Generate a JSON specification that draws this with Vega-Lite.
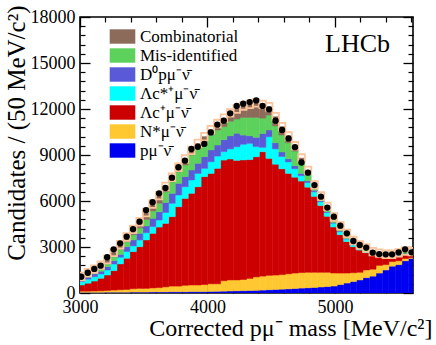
{
  "$schema": "https://vega.github.io/schema/vega-lite/v6.json",
  "autosize": "none",
  "width": 333,
  "height": 276,
  "padding": {"left": 80, "top": 17, "right": 23, "bottom": 52},
  "background": "white",
  "config": {
    "font": "Liberation Serif",
    "view": {"stroke": "black", "strokeWidth": 1.6},
    "axis": {"grid": false, "labelFont": "Liberation Serif", "labelFontSize": 18, "labelColor": "black", "titleFont": "Liberation Serif", "titleFontWeight": "normal", "titleColor": "black", "tickColor": "black", "domainColor": "black"},
    "legend": {"orient": "none", "legendX": 34, "legendY": 11, "symbolType": "M-1.6,-0.9H1.6V0.9H-1.6Z", "symbolSize": 256, "symbolStrokeWidth": 0, "labelFont": "Liberation Serif", "labelFontSize": 17, "labelColor": "black", "labelOffset": 9, "rowPadding": 1, "labelLimit": 0, "padding": 0}
  },
  "data": {"values": [
    {"lo": 2985, "hi": 3036, "m": 3010, "p": 40, "ns": 120, "lc": 520, "lcs": 740, "d0": 850, "mis": 950, "comb": 1080, "obs": 1060},
    {"lo": 3036, "hi": 3087, "m": 3061, "p": 40, "ns": 120, "lc": 640, "lcs": 900, "d0": 1050, "mis": 1180, "comb": 1320, "obs": 1320},
    {"lo": 3087, "hi": 3137, "m": 3112, "p": 40, "ns": 130, "lc": 780, "lcs": 1060, "d0": 1250, "mis": 1400, "comb": 1560, "obs": 1570},
    {"lo": 3137, "hi": 3188, "m": 3162, "p": 40, "ns": 140, "lc": 960, "lcs": 1240, "d0": 1420, "mis": 1620, "comb": 1820, "obs": 1780},
    {"lo": 3188, "hi": 3239, "m": 3213, "p": 50, "ns": 170, "lc": 1170, "lcs": 1500, "d0": 1720, "mis": 1950, "comb": 2180, "obs": 2330},
    {"lo": 3239, "hi": 3290, "m": 3264, "p": 50, "ns": 190, "lc": 1460, "lcs": 1890, "d0": 2110, "mis": 2400, "comb": 2650, "obs": 2850},
    {"lo": 3290, "hi": 3341, "m": 3315, "p": 50, "ns": 210, "lc": 1900, "lcs": 2330, "d0": 2520, "mis": 2850, "comb": 3150, "obs": 3240},
    {"lo": 3341, "hi": 3391, "m": 3366, "p": 50, "ns": 230, "lc": 2260, "lcs": 2700, "d0": 3020, "mis": 3350, "comb": 3650, "obs": 3680},
    {"lo": 3391, "hi": 3442, "m": 3416, "p": 60, "ns": 280, "lc": 2700, "lcs": 3070, "d0": 3460, "mis": 3800, "comb": 4150, "obs": 4170},
    {"lo": 3442, "hi": 3493, "m": 3467, "p": 60, "ns": 300, "lc": 3020, "lcs": 3460, "d0": 3890, "mis": 4250, "comb": 4650, "obs": 4650},
    {"lo": 3493, "hi": 3544, "m": 3518, "p": 60, "ns": 300, "lc": 3460, "lcs": 3930, "d0": 4370, "mis": 4800, "comb": 5250, "obs": 5410},
    {"lo": 3544, "hi": 3595, "m": 3569, "p": 70, "ns": 330, "lc": 3890, "lcs": 4330, "d0": 4870, "mis": 5350, "comb": 5800, "obs": 5920},
    {"lo": 3595, "hi": 3645, "m": 3620, "p": 70, "ns": 350, "lc": 4300, "lcs": 4760, "d0": 5300, "mis": 5850, "comb": 6350, "obs": 6500},
    {"lo": 3645, "hi": 3696, "m": 3670, "p": 70, "ns": 400, "lc": 4540, "lcs": 5250, "d0": 5900, "mis": 6600, "comb": 6950, "obs": 6850},
    {"lo": 3696, "hi": 3747, "m": 3721, "p": 80, "ns": 450, "lc": 4980, "lcs": 5850, "d0": 6500, "mis": 7260, "comb": 7550, "obs": 7520},
    {"lo": 3747, "hi": 3798, "m": 3772, "p": 80, "ns": 450, "lc": 5630, "lcs": 6390, "d0": 7150, "mis": 7910, "comb": 8200, "obs": 8200},
    {"lo": 3798, "hi": 3849, "m": 3823, "p": 80, "ns": 500, "lc": 6170, "lcs": 6930, "d0": 7590, "mis": 8350, "comb": 8750, "obs": 8630},
    {"lo": 3849, "hi": 3899, "m": 3874, "p": 90, "ns": 520, "lc": 6500, "lcs": 7370, "d0": 8020, "mis": 9000, "comb": 9300, "obs": 9390},
    {"lo": 3899, "hi": 3950, "m": 3924, "p": 90, "ns": 520, "lc": 6930, "lcs": 7800, "d0": 8460, "mis": 9430, "comb": 9750, "obs": 9540},
    {"lo": 3950, "hi": 4001, "m": 3975, "p": 90, "ns": 550, "lc": 7590, "lcs": 8130, "d0": 8890, "mis": 9870, "comb": 10200, "obs": 9720},
    {"lo": 4001, "hi": 4052, "m": 4026, "p": 100, "ns": 600, "lc": 7800, "lcs": 8560, "d0": 9330, "mis": 10300, "comb": 10650, "obs": 10470},
    {"lo": 4052, "hi": 4103, "m": 4077, "p": 110, "ns": 600, "lc": 8130, "lcs": 8930, "d0": 9650, "mis": 10630, "comb": 11050, "obs": 10980},
    {"lo": 4103, "hi": 4153, "m": 4128, "p": 120, "ns": 800, "lc": 8670, "lcs": 9220, "d0": 10000, "mis": 10850, "comb": 11400, "obs": 11240},
    {"lo": 4153, "hi": 4204, "m": 4178, "p": 130, "ns": 850, "lc": 8740, "lcs": 9400, "d0": 10250, "mis": 11200, "comb": 11750, "obs": 11720},
    {"lo": 4204, "hi": 4255, "m": 4229, "p": 140, "ns": 850, "lc": 8650, "lcs": 9540, "d0": 10420, "mis": 11350, "comb": 12000, "obs": 12200},
    {"lo": 4255, "hi": 4306, "m": 4280, "p": 150, "ns": 880, "lc": 8680, "lcs": 9700, "d0": 10300, "mis": 11450, "comb": 12200, "obs": 12350},
    {"lo": 4306, "hi": 4357, "m": 4331, "p": 160, "ns": 950, "lc": 8700, "lcs": 9760, "d0": 10250, "mis": 11450, "comb": 12300, "obs": 12450},
    {"lo": 4357, "hi": 4407, "m": 4382, "p": 170, "ns": 1050, "lc": 8890, "lcs": 9550, "d0": 10150, "mis": 11450, "comb": 12400, "obs": 12560},
    {"lo": 4407, "hi": 4458, "m": 4432, "p": 190, "ns": 1100, "lc": 9215, "lcs": 9500, "d0": 10400, "mis": 11400, "comb": 12300, "obs": 12200},
    {"lo": 4458, "hi": 4509, "m": 4483, "p": 210, "ns": 1150, "lc": 8780, "lcs": 10190, "d0": 10630, "mis": 11600, "comb": 12150, "obs": 11980},
    {"lo": 4509, "hi": 4560, "m": 4534, "p": 230, "ns": 1170, "lc": 8400, "lcs": 9400, "d0": 9800, "mis": 10900, "comb": 11500, "obs": 11240},
    {"lo": 4560, "hi": 4611, "m": 4585, "p": 250, "ns": 1200, "lc": 8100, "lcs": 8900, "d0": 9200, "mis": 10300, "comb": 10850, "obs": 10630},
    {"lo": 4611, "hi": 4661, "m": 4636, "p": 270, "ns": 1250, "lc": 7800, "lcs": 8550, "d0": 8750, "mis": 9800, "comb": 10250, "obs": 10080},
    {"lo": 4661, "hi": 4712, "m": 4686, "p": 290, "ns": 1300, "lc": 7550, "lcs": 8100, "d0": 8300, "mis": 9250, "comb": 9600, "obs": 9510},
    {"lo": 4712, "hi": 4763, "m": 4737, "p": 320, "ns": 1330, "lc": 7300, "lcs": 7650, "d0": 7800, "mis": 8550, "comb": 8800, "obs": 8510},
    {"lo": 4763, "hi": 4814, "m": 4788, "p": 340, "ns": 1350, "lc": 6900, "lcs": 7200, "d0": 7320, "mis": 7850, "comb": 8000, "obs": 7850},
    {"lo": 4814, "hi": 4865, "m": 4839, "p": 360, "ns": 1350, "lc": 6300, "lcs": 6600, "d0": 6700, "mis": 6950, "comb": 7050, "obs": 7040},
    {"lo": 4865, "hi": 4915, "m": 4890, "p": 390, "ns": 1350, "lc": 5700, "lcs": 5950, "d0": 6020, "mis": 6250, "comb": 6330, "obs": 6280},
    {"lo": 4915, "hi": 4966, "m": 4940, "p": 420, "ns": 1350, "lc": 5000, "lcs": 5250, "d0": 5300, "mis": 5550, "comb": 5650, "obs": 5570},
    {"lo": 4966, "hi": 5017, "m": 4991, "p": 450, "ns": 1300, "lc": 4300, "lcs": 4550, "d0": 4600, "mis": 4850, "comb": 4960, "obs": 4980},
    {"lo": 5017, "hi": 5068, "m": 5042, "p": 550, "ns": 1300, "lc": 3800, "lcs": 4000, "d0": 4050, "mis": 4280, "comb": 4380, "obs": 4390},
    {"lo": 5068, "hi": 5119, "m": 5093, "p": 650, "ns": 1300, "lc": 3350, "lcs": 3520, "d0": 3560, "mis": 3780, "comb": 3880, "obs": 3890},
    {"lo": 5119, "hi": 5169, "m": 5144, "p": 750, "ns": 1320, "lc": 3020, "lcs": 3150, "d0": 3180, "mis": 3330, "comb": 3420, "obs": 3390},
    {"lo": 5169, "hi": 5220, "m": 5194, "p": 850, "ns": 1350, "lc": 2800, "lcs": 2900, "d0": 2920, "mis": 3050, "comb": 3130, "obs": 3130},
    {"lo": 5220, "hi": 5271, "m": 5245, "p": 1000, "ns": 1500, "lc": 2630, "lcs": 2700, "d0": 2720, "mis": 2850, "comb": 2930, "obs": 2960},
    {"lo": 5271, "hi": 5322, "m": 5296, "p": 1100, "ns": 1550, "lc": 2480, "lcs": 2520, "d0": 2540, "mis": 2640, "comb": 2700, "obs": 2630},
    {"lo": 5322, "hi": 5373, "m": 5347, "p": 1300, "ns": 1800, "lc": 2410, "lcs": 2440, "d0": 2460, "mis": 2550, "comb": 2600, "obs": 2540},
    {"lo": 5373, "hi": 5423, "m": 5398, "p": 1500, "ns": 1850, "lc": 2350, "lcs": 2380, "d0": 2400, "mis": 2480, "comb": 2530, "obs": 2520},
    {"lo": 5423, "hi": 5474, "m": 5448, "p": 1750, "ns": 2050, "lc": 2350, "lcs": 2380, "d0": 2400, "mis": 2480, "comb": 2530, "obs": 2520},
    {"lo": 5474, "hi": 5525, "m": 5499, "p": 1850, "ns": 2100, "lc": 2420, "lcs": 2450, "d0": 2470, "mis": 2560, "comb": 2620, "obs": 2650},
    {"lo": 5525, "hi": 5576, "m": 5550, "p": 2100, "ns": 2250, "lc": 2540, "lcs": 2570, "d0": 2590, "mis": 2680, "comb": 2740, "obs": 2850},
    {"lo": 5576, "hi": 5627, "m": 5601, "p": 2250, "ns": 2300, "lc": 2500, "lcs": 2530, "d0": 2550, "mis": 2630, "comb": 2700, "obs": 2650}
  ]},
  "resolve": {"axis": {"x": "independent", "y": "independent"}},
  "layer": [
    {
      "mark": {"type": "rect", "clip": true, "stroke": "#0000f0", "strokeWidth": 0.5},
      "encoding": {
        "x": {"field": "lo", "type": "quantitative", "scale": {"domain": [3000, 5612], "nice": false, "zero": false},
              "axis": {"orient": "bottom", "values": [3000, 4000, 5000], "format": "d", "ticks": false, "domain": false, "labelPadding": 5, "labelFlush": false,
                       "title": "Corrected pμ⁻ mass [MeV/c²]", "titleFontSize": 24, "titleX": 352, "titleY": 42, "titleAlign": "right", "titleBaseline": "alphabetic", "titleAnchor": "end"}},
        "x2": {"field": "hi"},
        "y": {"field": "p", "type": "quantitative", "scale": {"domain": [0, 18000], "nice": false},
              "axis": {"orient": "left", "values": [0, 3000, 6000, 9000, 12000, 15000, 18000], "format": "d", "ticks": false, "domain": false, "labelPadding": 5, "labelFlush": false,
                       "title": "Candidates / (50 MeV/c²)", "titleFontSize": 25, "titleAngle": -90, "titleX": -56, "titleY": -12, "titleAlign": "right", "titleBaseline": "alphabetic", "titleAnchor": "end"}},
        "y2": {"datum": 0},
        "color": {"datum": "pμ⁻ν̄",
                  "scale": {"domain": ["Combinatorial", "Mis-identified", "D⁰pμ⁻ν̄", "Λc*⁺μ⁻ν̄", "Λc⁺μ⁻ν̄", "N*μ⁻ν̄", "pμ⁻ν̄"],
                            "range": ["#8c6b5b", "#5cd25c", "#5a5ad8", "#00ffff", "#cc0000", "#ffc830", "#0000f0"]},
                  "legend": {"title": null}}
      }
    },
    {
      "mark": {"type": "rect", "clip": true, "stroke": "#ffc830", "strokeWidth": 0.5},
      "encoding": {
        "x": {"field": "lo", "type": "quantitative", "axis": {"orient": "bottom", "values": [3000, 4000, 5000], "labels": false, "domain": false, "tickSize": -10, "tickWidth": 1.3, "title": null}},
        "x2": {"field": "hi"},
        "y": {"field": "ns", "type": "quantitative", "axis": {"orient": "left", "values": [0, 3000, 6000, 9000, 12000, 15000, 18000], "labels": false, "domain": false, "tickSize": -10, "tickWidth": 1.3, "title": null}},
        "y2": {"field": "p"},
        "color": {"datum": "N*μ⁻ν̄"}
      }
    },
    {
      "mark": {"type": "rect", "clip": true, "stroke": "#cc0000", "strokeWidth": 0.5},
      "encoding": {
        "x": {"field": "lo", "type": "quantitative", "axis": {"orient": "bottom", "values": [3200, 3400, 3600, 3800, 4200, 4400, 4600, 4800, 5200, 5400, 5600], "labels": false, "domain": false, "tickSize": -5, "tickWidth": 1.2, "title": null}},
        "x2": {"field": "hi"},
        "y": {"field": "lc", "type": "quantitative", "axis": {"orient": "left", "values": [600, 1200, 1800, 2400, 3600, 4200, 4800, 5400, 6600, 7200, 7800, 8400, 9600, 10200, 10800, 11400, 12600, 13200, 13800, 14400, 15600, 16200, 16800, 17400], "labels": false, "domain": false, "tickSize": -5, "tickWidth": 1.2, "title": null}},
        "y2": {"field": "ns"},
        "color": {"datum": "Λc⁺μ⁻ν̄"}
      }
    },
    {
      "mark": {"type": "rect", "clip": true, "stroke": "#00ffff", "strokeWidth": 0.5},
      "encoding": {
        "x": {"field": "lo", "type": "quantitative", "axis": {"orient": "top", "values": [3000, 4000, 5000], "labels": false, "domain": false, "tickSize": -10, "tickWidth": 1.3, "title": null}},
        "x2": {"field": "hi"},
        "y": {"field": "lcs", "type": "quantitative", "axis": {"orient": "right", "values": [0, 3000, 6000, 9000, 12000, 15000, 18000], "labels": false, "domain": false, "tickSize": -10, "tickWidth": 1.3, "title": null}},
        "y2": {"field": "lc"},
        "color": {"datum": "Λc*⁺μ⁻ν̄"}
      }
    },
    {
      "mark": {"type": "rect", "clip": true, "stroke": "#5a5ad8", "strokeWidth": 0.5},
      "encoding": {
        "x": {"field": "lo", "type": "quantitative", "axis": {"orient": "top", "values": [3200, 3400, 3600, 3800, 4200, 4400, 4600, 4800, 5200, 5400, 5600], "labels": false, "domain": false, "tickSize": -5, "tickWidth": 1.2, "title": null}},
        "x2": {"field": "hi"},
        "y": {"field": "d0", "type": "quantitative", "axis": {"orient": "right", "values": [600, 1200, 1800, 2400, 3600, 4200, 4800, 5400, 6600, 7200, 7800, 8400, 9600, 10200, 10800, 11400, 12600, 13200, 13800, 14400, 15600, 16200, 16800, 17400], "labels": false, "domain": false, "tickSize": -5, "tickWidth": 1.2, "title": null}},
        "y2": {"field": "lcs"},
        "color": {"datum": "D⁰pμ⁻ν̄"}
      }
    },
    {
      "mark": {"type": "rect", "clip": true, "stroke": "#5cd25c", "strokeWidth": 0.5},
      "encoding": {
        "x": {"field": "lo", "type": "quantitative", "axis": null},
        "x2": {"field": "hi"},
        "y": {"field": "mis", "type": "quantitative", "axis": null},
        "y2": {"field": "d0"},
        "color": {"datum": "Mis-identified"}
      }
    },
    {
      "mark": {"type": "rect", "clip": true, "stroke": "#8c6b5b", "strokeWidth": 0.5},
      "encoding": {
        "x": {"field": "lo", "type": "quantitative", "axis": null},
        "x2": {"field": "hi"},
        "y": {"field": "comb", "type": "quantitative", "axis": null},
        "y2": {"field": "mis"},
        "color": {"datum": "Combinatorial"}
      }
    },
    {
      "mark": {"type": "rect", "clip": true, "filled": false, "fill": null, "stroke": "#fcc49a", "strokeWidth": 1.8, "yOffset": 3.8, "y2Offset": -3.8},
      "encoding": {
        "x": {"field": "lo", "type": "quantitative", "axis": null},
        "x2": {"field": "hi"},
        "y": {"field": "comb", "type": "quantitative", "axis": null},
        "y2": {"field": "comb"}
      }
    },
    {
      "mark": {"type": "circle", "clip": true, "color": "black", "opacity": 1, "size": 40},
      "encoding": {
        "x": {"field": "m", "type": "quantitative", "axis": null},
        "y": {"field": "obs", "type": "quantitative", "axis": null}
      }
    },
    {
      "data": {"values": [{"label": "LHCb"}]},
      "mark": {"type": "text", "font": "Liberation Serif", "fontSize": 26, "align": "left", "baseline": "alphabetic", "color": "black"},
      "encoding": {
        "x": {"datum": 4922, "type": "quantitative", "axis": null},
        "y": {"datum": 15718, "type": "quantitative", "axis": null},
        "text": {"field": "label"}
      }
    }
  ]
}
